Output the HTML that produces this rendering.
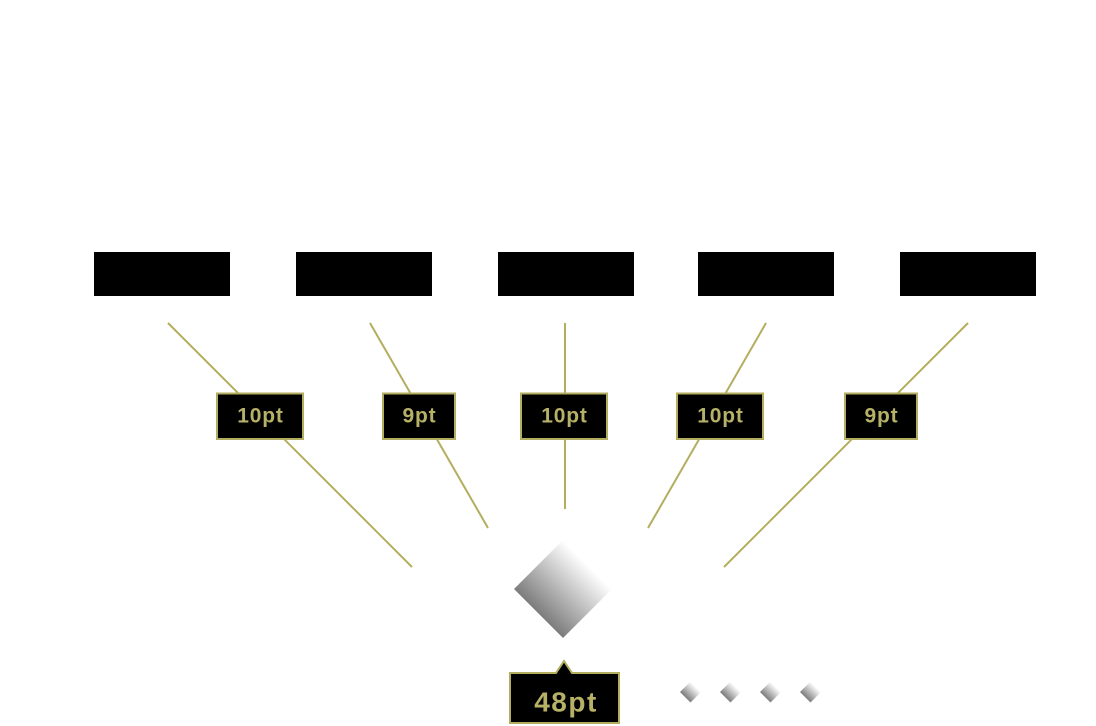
<!DOCTYPE html>
<html><head><meta charset="utf-8"><style>
html,body{margin:0;padding:0;background:#fff;}
svg{display:block;}
text{font-family:"Liberation Sans",Arial,sans-serif;font-weight:bold;fill:#b6b166;}
</style></head><body>
<svg width="1096" height="726" viewBox="0 0 1096 726" xmlns="http://www.w3.org/2000/svg">
<defs>
<linearGradient id="g" x1="1" y1="0" x2="0" y2="1">
<stop offset="0.25" stop-color="#ffffff"/>
<stop offset="0.75" stop-color="#7c7c7c"/>
</linearGradient>
</defs>
<rect width="1096" height="726" fill="#fff"/>
<!-- top black boxes -->
<rect x="94" y="252" width="136" height="44" fill="#000"/>
<rect x="296" y="252" width="136" height="44" fill="#000"/>
<rect x="498" y="252" width="136" height="44" fill="#000"/>
<rect x="698" y="252" width="136" height="44" fill="#000"/>
<rect x="900" y="252" width="136" height="44" fill="#000"/>
<!-- lines -->
<g stroke="#b3ae5f" stroke-width="2" fill="none">
<line x1="168" y1="323" x2="412" y2="567"/>
<line x1="370" y1="323" x2="488" y2="528"/>
<line x1="565" y1="323" x2="565" y2="509"/>
<line x1="766" y1="323" x2="648" y2="528"/>
<line x1="968" y1="323" x2="724" y2="567"/>
</g>
<!-- labels -->
<g fill="#000" stroke="#b3ae5f" stroke-width="2">
<rect x="217" y="393.5" width="86" height="45.5"/>
<rect x="383" y="393.5" width="72" height="45.5"/>
<rect x="521" y="393.5" width="86" height="45.5"/>
<rect x="677" y="393.5" width="86" height="45.5"/>
<rect x="845" y="393.5" width="72" height="45.5"/>
</g>
<g font-size="21" text-anchor="middle" letter-spacing="0.8">
<text x="260.5" y="422.5">10pt</text>
<text x="419.5" y="422.5">9pt</text>
<text x="564.5" y="422.5">10pt</text>
<text x="720.5" y="422.5">10pt</text>
<text x="881.5" y="422.5">9pt</text>
</g>
<!-- big diamond -->
<polygon points="563,540 612,589 563,638 514,589" fill="url(#g)"/>
<!-- 48pt callout -->
<path d="M510,673 H556 L564,661 L572,673 H619 V723 H510 Z" fill="#000" stroke="#b3ae5f" stroke-width="2"/>
<text x="566" y="711.5" font-size="28" text-anchor="middle" letter-spacing="1.5">48pt</text>
<!-- small diamonds -->
<polygon points="690.5,681.5 701,692 690.5,702.5 680,692" fill="url(#g)"/>
<polygon points="730.5,681.5 741,692 730.5,702.5 720,692" fill="url(#g)"/>
<polygon points="770.5,681.5 781,692 770.5,702.5 760,692" fill="url(#g)"/>
<polygon points="810.5,681.5 821,692 810.5,702.5 800,692" fill="url(#g)"/>
</svg>
</body></html>
